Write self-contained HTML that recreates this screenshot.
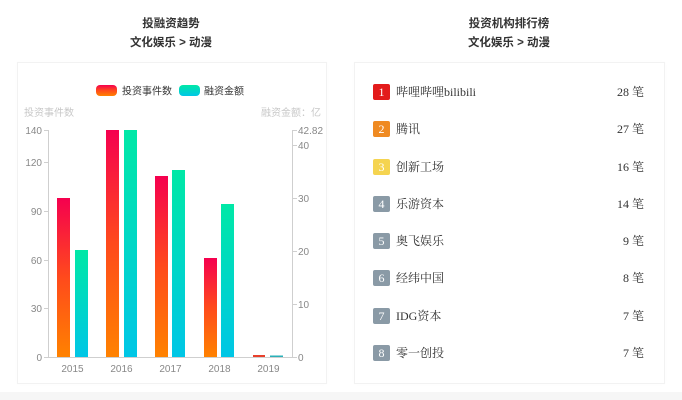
<!DOCTYPE html>
<html><head><meta charset="utf-8">
<style>
html,body{margin:0;padding:0;background:#fff;}
body{width:682px;height:400px;position:relative;overflow:hidden;font-family:"Liberation Sans","Noto Sans CJK SC",sans-serif;}
.title{position:absolute;text-align:center;color:#333;font-size:11.5px;line-height:19px;font-weight:bold;}
.card{position:absolute;top:62px;height:320px;background:#fff;border:1px solid #f2f2f2;box-shadow:0 0 3px rgba(0,0,0,0.02);}
.row{position:absolute;left:373px;width:271px;height:17px;font-family:"Liberation Serif","Noto Serif CJK SC",serif;font-size:12px;color:#333;}
.badge{position:absolute;left:0;top:0;width:17px;height:16px;border-radius:2px;color:#fff;text-align:center;line-height:16px;font-size:12px;}
.name{position:absolute;left:23px;top:0;line-height:16px;}
.cnt{position:absolute;right:0;top:0;line-height:16px;}
.bottom{position:absolute;left:0;top:392px;width:682px;height:8px;background:#f6f6f6;}
</style></head>
<body>
<div class="title" style="left:71px;top:15px;width:200px;">投融资趋势<br>文化娱乐 &gt; 动漫</div>
<div class="title" style="left:409px;top:15px;width:200px;">投资机构排行榜<br>文化娱乐 &gt; 动漫</div>

<div class="card" style="left:17px;width:308px;"></div>
<div class="card" style="left:354px;width:309px;"></div>

<svg style="position:absolute;left:0;top:0" width="682" height="400" xmlns="http://www.w3.org/2000/svg" font-family="Liberation Sans, Noto Sans CJK SC, sans-serif">
<defs>
<linearGradient id="gr" x1="0" y1="0" x2="0" y2="1">
<stop offset="0" stop-color="#f5004f"/>
<stop offset="0.5" stop-color="#ff4a1c"/>
<stop offset="1" stop-color="#ff8200"/>
</linearGradient>
<linearGradient id="gc" x1="0" y1="0" x2="0" y2="1">
<stop offset="0" stop-color="#00e8a6"/>
<stop offset="1" stop-color="#00c6e6"/>
</linearGradient>
</defs>
<!-- legend -->
<rect x="96" y="85" width="21" height="11" rx="4" fill="url(#gr)"/>
<text x="122" y="94.5" font-size="10" fill="#333">投资事件数</text>
<rect x="179" y="85" width="21" height="11" rx="4" fill="url(#gc)"/>
<text x="204" y="94.5" font-size="10" fill="#333">融资金额</text>
<!-- axis names -->
<text x="24" y="116" font-size="10" fill="#c8c8c8">投资事件数</text>
<text x="321" y="116" font-size="10" fill="#c8c8c8" text-anchor="end">融资金额：亿</text>
<!-- axes -->
<g stroke="#cfcfcf" stroke-width="1" fill="none">
<line x1="48.5" y1="130" x2="48.5" y2="357"/>
<line x1="292.5" y1="130" x2="292.5" y2="357"/>
<line x1="48" y1="357.5" x2="293" y2="357.5"/>
<line x1="44" y1="130.5" x2="48" y2="130.5"/>
<line x1="44" y1="162.5" x2="48" y2="162.5"/>
<line x1="44" y1="211.5" x2="48" y2="211.5"/>
<line x1="44" y1="260.5" x2="48" y2="260.5"/>
<line x1="44" y1="308.5" x2="48" y2="308.5"/>
<line x1="44" y1="357.5" x2="48" y2="357.5"/>
<line x1="293" y1="130.5" x2="297" y2="130.5"/>
<line x1="293" y1="145.5" x2="297" y2="145.5"/>
<line x1="293" y1="198.5" x2="297" y2="198.5"/>
<line x1="293" y1="251.5" x2="297" y2="251.5"/>
<line x1="293" y1="304.5" x2="297" y2="304.5"/>
<line x1="293" y1="357.5" x2="297" y2="357.5"/>
</g>
<g font-size="10" fill="#888" text-anchor="end">
<text x="42" y="134">140</text>
<text x="42" y="166">120</text>
<text x="42" y="215">90</text>
<text x="42" y="264">60</text>
<text x="42" y="312">30</text>
<text x="42" y="361">0</text>
</g>
<g font-size="10" fill="#888">
<text x="298" y="134">42.82</text>
<text x="298" y="149">40</text>
<text x="298" y="202">30</text>
<text x="298" y="255">20</text>
<text x="298" y="308">10</text>
<text x="298" y="361">0</text>
</g>
<g font-size="10" fill="#888" text-anchor="middle">
<text x="72.5" y="372">2015</text>
<text x="121.5" y="372">2016</text>
<text x="170.5" y="372">2017</text>
<text x="219.5" y="372">2018</text>
<text x="268.5" y="372">2019</text>
</g>
<!-- bars -->
<rect x="57" y="198" width="13" height="159" fill="url(#gr)"/>
<rect x="75" y="250" width="13" height="107" fill="url(#gc)"/>
<rect x="106" y="130" width="13" height="227" fill="url(#gr)"/>
<rect x="124" y="130" width="13" height="227" fill="url(#gc)"/>
<rect x="155" y="176" width="13" height="181" fill="url(#gr)"/>
<rect x="172" y="170" width="13" height="187" fill="url(#gc)"/>
<rect x="204" y="258" width="13" height="99" fill="url(#gr)"/>
<rect x="221" y="204" width="13" height="153" fill="url(#gc)"/>
<rect x="253" y="355" width="12" height="2" fill="#e8402c"/>
<rect x="270" y="355.5" width="13" height="1.5" fill="#2ab0b8"/>
</svg>

<div class="row" style="top:84px;"><div class="badge" style="background:#e31b1b;">1</div><div class="name">哔哩哔哩bilibili</div><div class="cnt">28 笔</div></div>
<div class="row" style="top:121px;"><div class="badge" style="background:#ef8a22;">2</div><div class="name">腾讯</div><div class="cnt">27 笔</div></div>
<div class="row" style="top:159px;"><div class="badge" style="background:#f5d450;">3</div><div class="name">创新工场</div><div class="cnt">16 笔</div></div>
<div class="row" style="top:196px;"><div class="badge" style="background:#8a9aa6;">4</div><div class="name">乐游资本</div><div class="cnt">14 笔</div></div>
<div class="row" style="top:233px;"><div class="badge" style="background:#8a9aa6;">5</div><div class="name">奥飞娱乐</div><div class="cnt">9 笔</div></div>
<div class="row" style="top:270px;"><div class="badge" style="background:#8a9aa6;">6</div><div class="name">经纬中国</div><div class="cnt">8 笔</div></div>
<div class="row" style="top:308px;"><div class="badge" style="background:#8a9aa6;">7</div><div class="name">IDG资本</div><div class="cnt">7 笔</div></div>
<div class="row" style="top:345px;"><div class="badge" style="background:#8a9aa6;">8</div><div class="name">零一创投</div><div class="cnt">7 笔</div></div>

<div class="bottom"></div>
</body></html>
